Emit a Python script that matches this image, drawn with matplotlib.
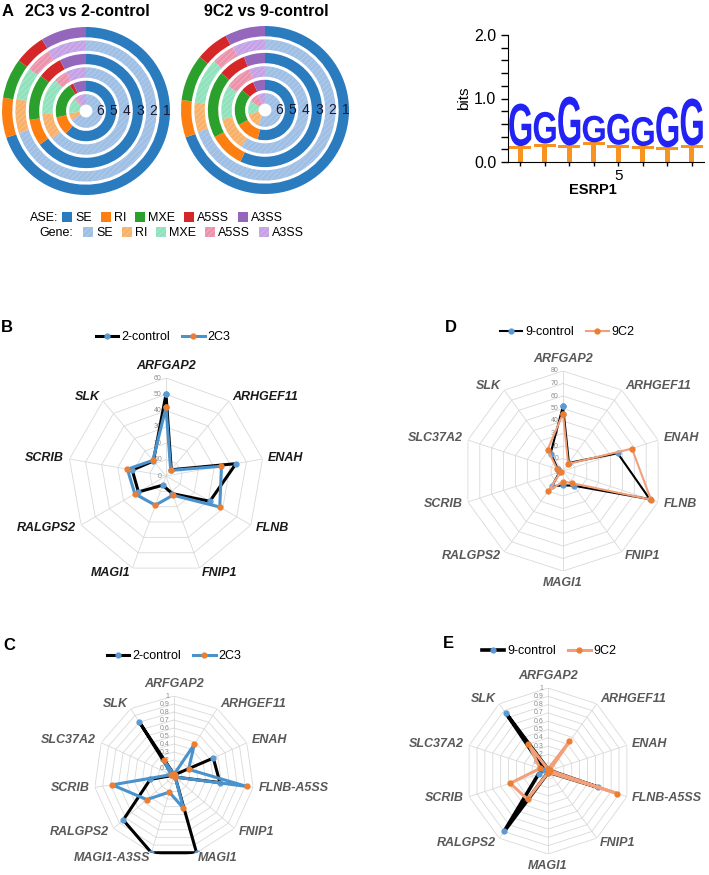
import numpy as np
import matplotlib
matplotlib.use('Agg')
import matplotlib.pyplot as plt
import matplotlib.patches as mpatches
import matplotlib.transforms as mtransforms
from matplotlib.textpath import TextPath
from matplotlib.font_manager import FontProperties

plt.rcParams['font.family'] = ['Liberation Sans', 'DejaVu Sans']
plt.rcParams['hatch.linewidth'] = 0.6

# ---------------- data ----------------
ase_types = ['SE', 'RI', 'MXE', 'A5SS', 'A3SS']
# rings 1..6, outer to inner (odd = ASE, even = Gene), fractions per type
rings_2c3 = [
    [0.700, 0.077, 0.077, 0.060, 0.088],
    [0.700, 0.078, 0.075, 0.058, 0.090],
    [0.650, 0.075, 0.130, 0.070, 0.075],
    [0.640, 0.097, 0.136, 0.050, 0.075],
    [0.617, 0.100, 0.194, 0.020, 0.070],
    [0.660, 0.070, 0.150, 0.020, 0.100],
]
rings_9c2 = [
    [0.700, 0.072, 0.090, 0.064, 0.078],
    [0.700, 0.067, 0.105, 0.053, 0.075],
    [0.570, 0.100, 0.190, 0.078, 0.060],
    [0.590, 0.125, 0.125, 0.100, 0.058],
    [0.540, 0.128, 0.197, 0.072, 0.064],
    [0.567, 0.140, 0.130, 0.090, 0.070],
]

logo_pos = [1, 2, 3, 4, 5, 6, 7, 8]
g_bits = [0.67, 0.50, 0.77, 0.42, 0.49, 0.46, 0.64, 0.74]
t_bits = [0.25, 0.29, 0.26, 0.31, 0.27, 0.25, 0.23, 0.26]

b_genes = ['ARFGAP2', 'ARHGEF11', 'ENAH', 'FLNB', 'FNIP1', 'MAGI1', 'RALGPS2', 'SCRIB', 'SLK']
b_ctrl = [50, 5, 43.5, 31, 11.5, 6, 19.5, 21, 12]
b_2c3 = [42, 4.5, 34.5, 38, 12.5, 19, 22, 24, 12.5]

d_genes = ['ARFGAP2', 'ARHGEF11', 'ENAH', 'FLNB', 'FNIP1', 'MAGI1', 'RALGPS2', 'SCRIB', 'SLC37A2', 'SLK']
d_ctrl = [52, 8, 46, 73, 14.5, 11.5, 15, 3, 4, 17]
d_9c2 = [46, 7, 58, 74, 12, 8.5, 20, 2, 5, 21]

c_genes = ['ARFGAP2', 'ARHGEF11', 'ENAH', 'FLNB-A5SS', 'FNIP1', 'MAGI1', 'MAGI1-A3SS',
           'RALGPS2', 'SCRIB', 'SLC37A2', 'SLK']
c_ctrl = [0.02, 0.02, 0.54, 0.58, 0.02, 1.0, 1.0, 0.84, 0.30, 0.02, 0.80]
c_2c3 = [0.02, 0.47, 0.20, 0.92, 0.02, 0.42, 0.21, 0.45, 0.78, 0.04, 0.24]

e_genes = ['ARFGAP2', 'ARHGEF11', 'ENAH', 'FLNB-A5SS', 'FNIP1', 'MAGI1', 'RALGPS2',
           'SCRIB', 'SLC37A2', 'SLK']
e_ctrl = [0.02, 0.02, 0.02, 0.63, 0.02, 0.02, 0.90, 0.12, 0.05, 0.86]
e_9c2 = [0.02, 0.44, 0.02, 0.88, 0.02, 0.02, 0.42, 0.48, 0.10, 0.40]

# ---------------- styles ----------------
ase_colors = ['#2b7bbf', '#fd7f12', '#2ca02c', '#d62728', '#9467bd']
gene_colors = ['#9fbfe4', '#f9b16a', '#8fe2bb', '#ec92aa', '#c5a1e5']
gene_hatch = ['#b4cdec', '#fbc48c', '#acebce', '#f2b0c1', '#d4b8ee']
BLUE = '#4a92cc'
BLUE_MK = '#5b9bd5'
ORANGE_MK = '#ed7d31'
SALMON = '#f2a07a'

W, H = 709, 875
fig = plt.figure(figsize=(W / 100, H / 100), dpi=100)


def px(x, y, w, h):
    return [x / W, 1 - (y + h) / H, w / W, h / H]


def ftext(x, y, s, **kw):
    fig.text(x / W, 1 - y / H, s, **kw)


# ---------------- panel A donuts ----------------
def donut(rect, rings):
    ax = fig.add_axes(rect)
    for k, fr in enumerate(rings):
        r_out = 1 - k * 0.16
        gene_ring = k % 2 == 1
        cols = gene_colors if gene_ring else ase_colors
        wedges, _ = ax.pie(fr, radius=r_out, colors=cols, startangle=90,
                           counterclock=False, normalize=True,
                           wedgeprops=dict(width=0.123, linewidth=0))
        if gene_ring:
            for wd, hc in zip(wedges, gene_hatch):
                wd.set_hatch('//////')
                wd.set_edgecolor(hc)
                wd.set_linewidth(0)
        ax.text(r_out - 0.035, 0, str(k + 1), ha='center', va='center',
                fontsize=10, color='#1a1a33')
    ax.set_xlim(-1, 1)
    ax.set_ylim(-1, 1)
    ax.set_aspect('equal')
    ax.axis('off')


donut(px(2, 27, 168, 168), rings_2c3)
donut(px(181, 26, 168, 168), rings_9c2)
ftext(2, 11, 'A', fontsize=12, fontweight='bold', va='center')
ftext(25, 11, '2C3 vs 2-control', fontsize=11.5, fontweight='bold', va='center')
ftext(204, 11, '9C2 vs 9-control', fontsize=11.5, fontweight='bold', va='center')

ase_handles = [mpatches.Patch(facecolor=c, edgecolor='none') for c in ase_colors]
gene_handles = [mpatches.Patch(facecolor=c, edgecolor=h, hatch='//////', linewidth=0)
                for c, h in zip(gene_colors, gene_hatch)]
leg_kw = dict(ncol=5, frameon=False, fontsize=9, handlelength=0.8, handleheight=0.8,
              handletextpad=0.25, columnspacing=0.7, borderpad=0, borderaxespad=0,
              loc='center left')
ftext(58, 218, 'ASE:', fontsize=9, ha='right', va='center')
fig.legend(ase_handles, ase_types, bbox_to_anchor=(62 / W, 1 - 218 / H), **leg_kw)
ftext(73, 233, 'Gene:', fontsize=9, ha='right', va='center')
fig.legend(gene_handles, ase_types, bbox_to_anchor=(83 / W, 1 - 233 / H), **leg_kw)

# ---------------- motif logo ----------------
axl = fig.add_axes(px(508, 35, 196, 127))
logo_font = FontProperties(family='Liberation Sans', weight='bold')


def letter(ax, ch, x, y0, h, color):
    tp = TextPath((0, 0), ch, size=1, prop=logo_font)
    bb = tp.get_extents()
    tr = (mtransforms.Affine2D().translate(-bb.x0, -bb.y0)
          .scale(0.9 / bb.width, h / bb.height).translate(x - 0.45, y0))
    ax.add_patch(mpatches.PathPatch(tr.transform_path(tp), facecolor=color, lw=0))


for x, t, g in zip(logo_pos, t_bits, g_bits):
    letter(axl, 'T', x, 0, t, '#f7931e')
    letter(axl, 'G', x, t, g, '#2222f5')
axl.set_xlim(0.5, 8.5)
axl.set_ylim(0, 2)
axl.spines['top'].set_visible(False)
axl.spines['right'].set_visible(False)
axl.set_yticks([0, 1, 2])
axl.set_yticklabels(['0.0', '1.0', '2.0'], fontsize=11.5)
axl.set_yticks(np.arange(0, 2.01, 0.2), minor=True)
axl.set_xticks(logo_pos)
axl.set_xticklabels(['' if p != 5 else '5' for p in logo_pos], fontsize=11)
axl.tick_params(axis='y', which='both', length=5, width=1)
axl.tick_params(axis='x', length=3, width=1, pad=2)
axl.set_ylabel('bits', fontsize=11, labelpad=2)
ftext(593, 190, 'ESRP1', fontsize=10.5, fontweight='bold', ha='center', va='center')


# ---------------- radar panels ----------------
def radar(rect, genes, ctrl, treat, names, rmax, step, ctrl_lw, treat_color, treat_lw,
          lab_color, leg_xy):
    ax = fig.add_axes(rect, projection='polar')
    n = len(genes)
    theta = np.arange(n) * 2 * np.pi / n
    ax.set_theta_offset(np.pi / 2)
    ax.set_theta_direction(-1)
    ax.set_ylim(0, rmax)
    ax.axis('off')
    th = np.append(theta, theta[0])
    for lev in np.arange(step, rmax + step / 2, step):
        ax.plot(th, [lev] * (n + 1), color='#d9d9d9', lw=0.6, zorder=1)
    for t in theta:
        ax.plot([t, t], [0, rmax], color='#d9d9d9', lw=0.6, zorder=1)
    off = mtransforms.offset_copy(ax.transData, fig=fig, x=-3, y=0, units='points')
    for lev in np.arange(0, rmax + step / 2, step):
        ax.text(0, lev, f'{np.round(lev, 1):g}', transform=off, ha='right', va='center',
                fontsize=5, color='#8c8c8c', zorder=2)
    l1, = ax.plot(th, np.append(ctrl, ctrl[0]), color='black', lw=ctrl_lw, marker='o',
                  ms=3.5, mfc=BLUE_MK, mec=BLUE_MK, zorder=3)
    l2, = ax.plot(th, np.append(treat, treat[0]), color=treat_color, lw=treat_lw, marker='o',
                  ms=3.5, mfc=ORANGE_MK, mec=ORANGE_MK, zorder=4)
    for t, g in zip(theta, genes):
        s, c = np.sin(t), np.cos(t)
        ha = 'left' if s > 0.05 else ('right' if s < -0.05 else 'center')
        va = 'center'
        if abs(s) <= 0.05:
            va = 'bottom' if c > 0 else 'top'
        ax.annotate(g, xy=(t, rmax), xytext=(4 * s, 4 * c), textcoords='offset points',
                    ha=ha, va=va, fontsize=9, fontweight='bold', style='italic',
                    color=lab_color, annotation_clip=False)
    ax.legend([l1, l2], names, loc='center', bbox_to_anchor=(leg_xy[0] / W, 1 - leg_xy[1] / H),
              bbox_transform=fig.transFigure, ncol=2, frameon=False, fontsize=9,
              handlelength=1.8, handletextpad=0.2, columnspacing=1.0, borderpad=0)
    return ax


radar(px(68, 378, 196, 196), b_genes, b_ctrl, b_2c3, ['2-control', '2C3'], 60, 10,
      2.2, BLUE, 2.2, '#1a1a1a', (163, 337))
radar(px(463, 371, 200, 200), d_genes, d_ctrl, d_9c2, ['9-control', '9C2'], 80, 10,
      1.5, SALMON, 1.5, '#595959', (567, 332))
radar(px(94, 696, 160, 160), c_genes, c_ctrl, c_2c3, ['2-control', '2C3'], 1.0, 0.1,
      2.2, BLUE, 2.2, '#595959', (174, 656))
radar(px(465, 688, 166, 166), e_genes, e_ctrl, e_9c2, ['9-control', '9C2'], 1.0, 0.1,
      2.6, SALMON, 2.2, '#595959', (549, 651))

ftext(1, 328, 'B', fontsize=12, fontweight='bold', va='center')
ftext(445, 327, 'D', fontsize=12, fontweight='bold', va='center')
ftext(3, 645, 'C', fontsize=12, fontweight='bold', va='center')
ftext(443, 644, 'E', fontsize=12, fontweight='bold', va='center')

fig.savefig('out.png', dpi=100)
